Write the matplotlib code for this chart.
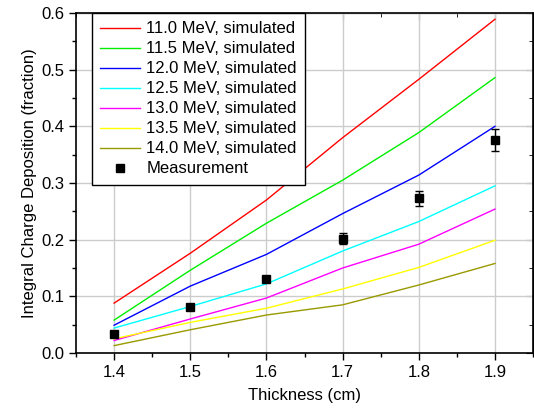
import matplotlib
matplotlib.use('Agg')
import matplotlib.pyplot as plt
from matplotlib.ticker import MultipleLocator
from matplotlib.lines import Line2D

plt.rcParams['font.family'] = ['Liberation Sans', 'DejaVu Sans']

# Thickness values (cm)
thickness = [1.4, 1.5, 1.6, 1.7, 1.8, 1.9]

# Simulated integral charge deposition per beam energy
sim_11_0 = [0.088, 0.176, 0.270, 0.380, 0.483, 0.589]
sim_11_5 = [0.058, 0.146, 0.229, 0.305, 0.389, 0.486]
sim_12_0 = [0.049, 0.118, 0.174, 0.246, 0.314, 0.400]
sim_12_5 = [0.044, 0.082, 0.122, 0.180, 0.232, 0.295]
sim_13_0 = [0.022, 0.060, 0.097, 0.150, 0.192, 0.254]
sim_13_5 = [0.025, 0.054, 0.079, 0.113, 0.151, 0.199]
sim_14_0 = [0.013, 0.041, 0.067, 0.085, 0.120, 0.158]

labels = ['11.0 MeV, simulated', '11.5 MeV, simulated', '12.0 MeV, simulated',
          '12.5 MeV, simulated', '13.0 MeV, simulated', '13.5 MeV, simulated',
          '14.0 MeV, simulated']
line_colors = ['#ff0000', '#00ee00', '#0000ff', '#00ffff', '#ff00ff', '#ffff00', '#999900']

# Measured values with error bars
meas = [0.034, 0.082, 0.131, 0.202, 0.273, 0.376]
meas_err = [0.003, 0.003, 0.004, 0.010, 0.013, 0.019]

fig = plt.figure(figsize=(5.34, 4.13), dpi=100)
ax = fig.add_axes([0.1423, 0.1453, 0.856, 0.8232])

series = [sim_11_0, sim_11_5, sim_12_0, sim_12_5, sim_13_0, sim_13_5, sim_14_0]
handles = []
for vals, c, lab in zip(series, line_colors, labels):
    h, = ax.plot(thickness, vals, color=c, lw=1.0, label=lab)
    handles.append(h)

ax.errorbar(thickness, meas, yerr=meas_err, fmt='s', color='black', ms=6,
            ecolor='black', elinewidth=1.0, capsize=2.8)
handles.append(Line2D([], [], ls='none', marker='s', color='black', ms=6, label='Measurement'))

ax.set_xlim(1.35, 1.95)
ax.set_ylim(0.0, 0.6)
ax.xaxis.set_major_locator(MultipleLocator(0.1))
ax.xaxis.set_minor_locator(MultipleLocator(0.05))
ax.yaxis.set_major_locator(MultipleLocator(0.1))
ax.yaxis.set_minor_locator(MultipleLocator(0.05))
ax.yaxis.set_major_formatter(matplotlib.ticker.FormatStrFormatter('%.1f'))

ax.grid(True, which='major', color='#cccccc', lw=1.0)
ax.set_axisbelow(True)

for s in ax.spines.values():
    s.set_linewidth(1.2)

ax.tick_params(which='both', direction='out', top=False, right=False, labelsize=12, width=1.0)
ax.tick_params(which='major', length=5)
ax.tick_params(which='minor', length=3)

# inward ticks on top and right like Origin
ax2 = ax.secondary_xaxis('top')
ax2.xaxis.set_major_locator(MultipleLocator(0.1))
ax2.xaxis.set_minor_locator(MultipleLocator(0.05))
ax2.tick_params(which='both', direction='in', labeltop=False)
ax2.tick_params(which='major', length=5)
ax2.tick_params(which='minor', length=3)
ay2 = ax.secondary_yaxis('right')
ay2.yaxis.set_major_locator(MultipleLocator(0.1))
ay2.yaxis.set_minor_locator(MultipleLocator(0.05))
ay2.tick_params(which='both', direction='in', labelright=False)
ay2.tick_params(which='major', length=5)
ay2.tick_params(which='minor', length=3)

ax.set_xlabel('Thickness (cm)', fontsize=12, labelpad=6)
ax.set_ylabel('Integral Charge Deposition (fraction)', fontsize=12, labelpad=3)

leg = ax.legend(handles=handles, loc='upper left', bbox_to_anchor=(0.035, 1.0), fontsize=12,
                frameon=True, fancybox=False, edgecolor='black', framealpha=1,
                handlelength=2.4, labelspacing=0.3, borderaxespad=0, borderpad=0.5,
                handletextpad=0.35)
leg.get_frame().set_linewidth(1.0)

fig.savefig('out.png', dpi=100)
